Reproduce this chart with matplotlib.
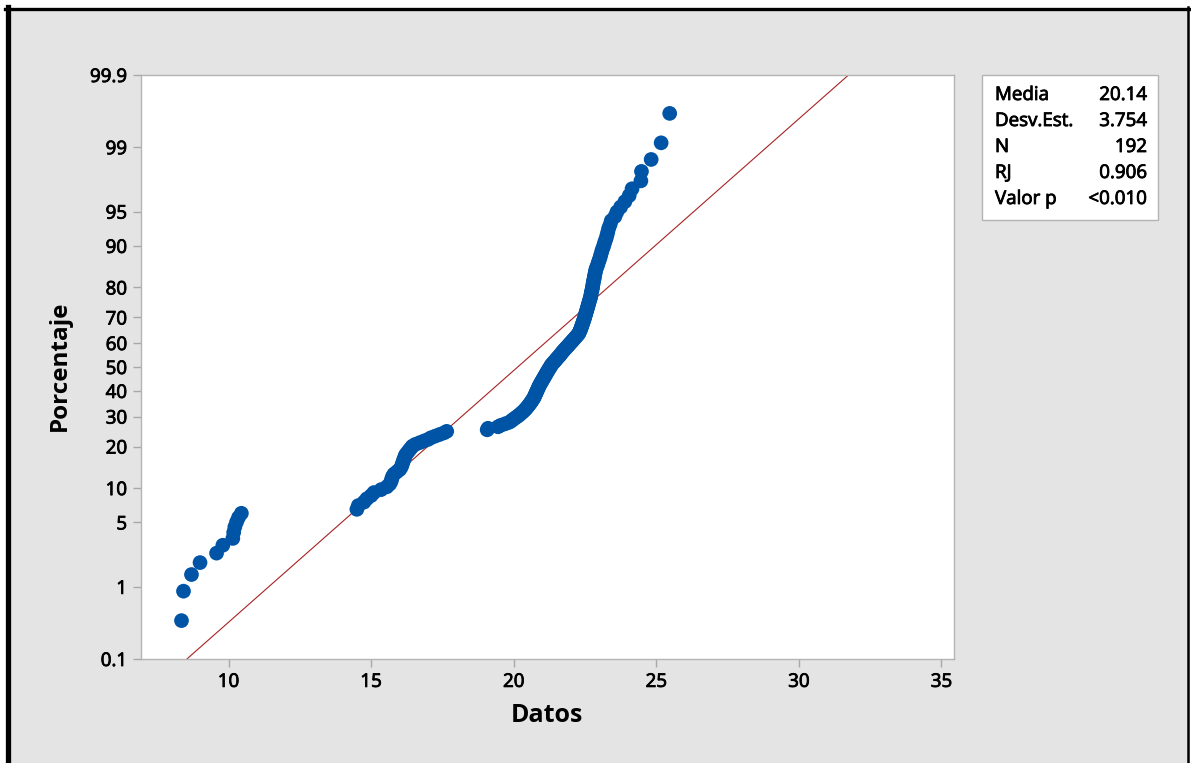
import numpy as np
import matplotlib
matplotlib.use('Agg')
import matplotlib.pyplot as plt
from matplotlib.patches import Rectangle
from matplotlib.lines import Line2D
import matplotlib.patheffects as pe
from statistics import NormalDist

plt.rcParams['font.family'] = ['Open Sans', 'DejaVu Sans']

# sorted data values (192 obs)
datos_bajos = [8.35, 8.42, 8.70, 9.00, 9.58, 9.80, 10.15, 10.18, 10.22, 10.28, 10.35, 10.45]
datos_medios = [14.50, 14.55, 14.75, 14.85, 15.00, 15.10, 15.35, 15.55, 15.65, 15.70,
                15.72, 15.75, 15.80, 15.90, 16.00, 16.05, 16.08, 16.10, 16.13, 16.15,
                16.18, 16.20, 16.25, 16.30, 16.35, 16.40, 16.45, 16.55, 16.70, 16.85,
                17.00, 17.10, 17.25, 17.40, 17.55, 17.65]
datos_altos = [19.07, 19.10, 19.45, 19.55, 19.70, 19.84, 19.92, 19.98, 20.05, 20.12,
               20.19, 20.24, 20.30, 20.35, 20.40, 20.44, 20.48, 20.52, 20.55, 20.59,
               20.62, 20.65, 20.68, 20.71, 20.73, 20.75, 20.77, 20.79, 20.81, 20.83,
               20.85, 20.87, 20.89, 20.91, 20.94, 20.96, 20.99, 21.01, 21.04, 21.06,
               21.09, 21.11, 21.14, 21.16, 21.19, 21.21, 21.24, 21.27, 21.29, 21.32,
               21.35, 21.39, 21.43, 21.47, 21.50, 21.54, 21.58, 21.62, 21.65, 21.69,
               21.72, 21.76, 21.80, 21.84, 21.88, 21.92, 21.96, 22.00, 22.04, 22.08,
               22.12, 22.16, 22.20, 22.24, 22.28, 22.30, 22.32, 22.34, 22.36, 22.37,
               22.39, 22.41, 22.42, 22.44, 22.46, 22.47, 22.49, 22.50, 22.52, 22.53,
               22.55, 22.56, 22.58, 22.59, 22.61, 22.62, 22.64, 22.65, 22.67, 22.69,
               22.70, 22.71, 22.72, 22.73, 22.75, 22.76, 22.77, 22.78, 22.79, 22.80,
               22.82, 22.83, 22.84, 22.86, 22.87, 22.89, 22.92, 22.95, 22.97, 23.00,
               23.03, 23.05, 23.08, 23.10, 23.14, 23.17, 23.20, 23.24, 23.27, 23.30,
               23.33, 23.38, 23.42, 23.55, 23.62, 23.75, 23.90, 24.05, 24.15, 24.46,
               24.48, 24.82, 25.17, 25.47]

media = 20.14
desv_est = 3.754
stats_labels = ['Media', 'Desv.Est.', 'N', 'RJ', 'Valor p']
stats_values = ['20.14', '3.754', '192', '0.906', '<0.010']

y_ticks = [0.1, 1, 5, 10, 20, 30, 40, 50, 60, 70, 80, 90, 95, 99, 99.9]
x_ticks = [10, 15, 20, 25, 30, 35]

nd = NormalDist()
datos = np.array(datos_bajos + datos_medios + datos_altos)
n = len(datos)
rank = np.arange(1, n + 1)
z_pts = np.array([nd.inv_cdf(p) for p in (rank - 0.3) / (n + 0.4)])

W, H = 1191, 763
fig = plt.figure(figsize=(W / 100, H / 100), dpi=100, facecolor='white')

def fx(px):
    return px / W

def fy(py):
    return 1 - py / H

# a thin stroke gives the semi-bold look of the Minitab text
semi = [pe.withStroke(linewidth=0.6, foreground='black')]

# grey panel and black frame
fig.add_artist(Rectangle((fx(8), 0), fx(1188) - fx(8), fy(9), transform=fig.transFigure,
                         facecolor='#e4e4e4', edgecolor='none', zorder=0))
fig.add_artist(Line2D([fx(7.5), fx(7.5)], [0, fy(7)], transform=fig.transFigure,
                      color='black', lw=3.8))
fig.add_artist(Line2D([fx(5), fx(1189)], [fy(8.5), fy(8.5)], transform=fig.transFigure,
                      color='black', lw=2.4))
fig.add_artist(Line2D([fx(1188), fx(1188)], [0, fy(7)], transform=fig.transFigure,
                      color='black', lw=1.8))

ax = fig.add_axes([fx(141), fy(659), fx(954) - fx(141), fy(75) - fy(659)])
ax.set_facecolor('white')

z_lim = nd.inv_cdf(0.999)
z_line = np.array([-z_lim, z_lim])
ax.plot(media + desv_est * z_line, z_line, color='#a82222', lw=0.8, zorder=2)
ax.scatter(datos, z_pts, s=112, color='#0054a6', edgecolors='none', zorder=3)

ax.set_xlim(6.93, 35.44)
ax.set_ylim(-z_lim, z_lim)
ax.set_xticks(x_ticks)
ax.set_yticks([nd.inv_cdf(t / 100) for t in y_ticks])
ax.set_yticklabels([f'{t:g}' for t in y_ticks])
ax.tick_params(direction='out', length=6, width=1, color='#a8a8a8', labelsize=13.5,
               pad=4)
for lab in ax.get_xticklabels() + ax.get_yticklabels():
    lab.set_path_effects(semi)
for sp in ax.spines.values():
    sp.set_color('#b4b4b4')
    sp.set_linewidth(1)

fig.text(fx(547), fy(716), 'Datos', ha='center', va='center', fontsize=18,
         fontweight='bold')
fig.text(fx(60), fy(366), 'Porcentaje', ha='center', va='center', fontsize=17.5,
         fontweight='bold', rotation=90)

# stats box
fig.add_artist(Rectangle((fx(982), fy(220)), fx(1158) - fx(982), fy(75) - fy(220),
                         transform=fig.transFigure, facecolor='white',
                         edgecolor='#b4b4b4', lw=1, zorder=1))
for i, (lab, val) in enumerate(zip(stats_labels, stats_values)):
    yy = fy(95 + i * 26)
    fig.text(fx(995), yy, lab, ha='left', va='center', fontsize=13.5,
             zorder=2, path_effects=semi)
    fig.text(fx(1147), yy, val, ha='right', va='center', fontsize=13.5,
             zorder=2, path_effects=semi)

fig.savefig('out.png', dpi=100, facecolor=fig.get_facecolor())
